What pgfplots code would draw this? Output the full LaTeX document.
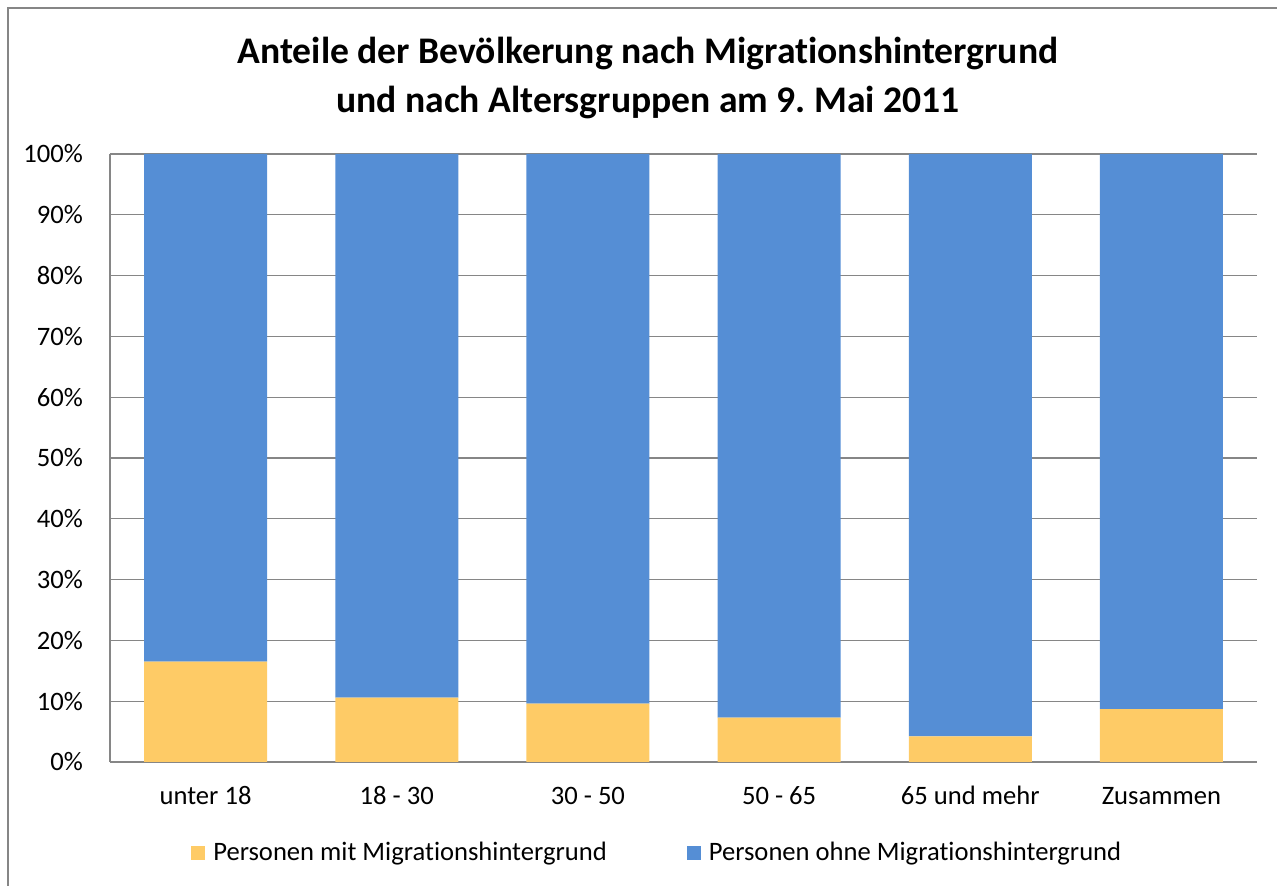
\documentclass[border=0pt]{standalone}
\usepackage{fontspec}
\setmainfont{Carlito}[Ligatures=NoCommon]
\usepackage{pgfplots}
\pgfplotsset{compat=1.18}
\definecolor{mitcol}{HTML}{FECB66}
\definecolor{ohnecol}{HTML}{558ED5}
\definecolor{gridcol}{HTML}{868686}

\begin{document}
\frenchspacing
\begin{tikzpicture}
\useasboundingbox (-55pt,-62pt) rectangle (583.5pt,381pt);
\draw[gridcol, line width=0.6pt] (-51pt,-62pt) -- (-51pt,377pt) -- (583.5pt,377pt);
\node[font=\fontsize{18.8}{24.5}\selectfont\bfseries, align=center] at (269pt,342pt)
  {Anteile der Bevölkerung nach Migrationshintergrund\\und nach Altersgruppen am 9. Mai 2011};
\begin{axis}[
  at={(0pt,0pt)}, anchor=south west,
  scale only axis, width=573.5pt, height=304pt,
  ybar stacked, bar width=61.5pt,
  xmin=-0.5, xmax=5.5, ymin=0, ymax=100,
  xtick={0,...,5},
  xticklabels={unter 18, 18 - 30, 30 - 50, 50 - 65, 65 und mehr, Zusammen},
  ytick={0,10,...,100},
  yticklabel={\pgfmathprintnumber{\tick}\%},
  /pgf/number format/assume math mode=true,
  tick label style={font=\fontsize{13.3}{16}\selectfont, text=black},
  major tick length=0pt,
  axis x line*=bottom, axis y line*=left,
  axis line style={gridcol, line width=0.6pt, -},
  ymajorgrids, grid style={gridcol, line width=0.6pt},
  xticklabel style={anchor=base, yshift=-21.5pt},
  yticklabel style={xshift=-10pt},
  legend columns=2,
  legend style={at={(0.478,-0.1497)}, anchor=center, draw=none, fill=none,
    font=\fontsize{13.3}{16}\selectfont,
    /tikz/every odd column/.append style={column sep=2pt},
    /tikz/every even column/.append style={column sep=38pt}},
  legend image code/.code={\fill[#1] (0pt,-3.5pt) rectangle (7pt,3.5pt);},
]
\addplot[fill=mitcol, draw=none] coordinates {
(0,16.5)(1,10.6)(2,9.6)(3,7.3)(4,4.2)(5,8.7)};
\addlegendentry{Personen mit Migrationshintergrund}
\addplot[fill=ohnecol, draw=none] coordinates {
(0,83.5)(1,89.4)(2,90.4)(3,92.7)(4,95.8)(5,91.3)};
\addlegendentry{Personen ohne Migrationshintergrund}
\end{axis}
\end{tikzpicture}
\end{document}
